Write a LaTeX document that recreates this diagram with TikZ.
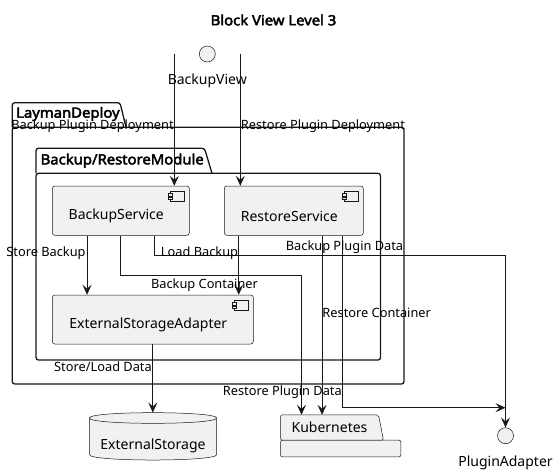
\documentclass[tikz,border=0pt]{standalone}
\usepackage{fontspec}
\setmainfont{Noto Sans}
\newfontfamily\boldsans{Noto Sans}[FakeBold=3,FakeStretch=1.06]
\usetikzlibrary{arrows.meta}
\definecolor{boxfill}{HTML}{F1F1F1}
\definecolor{linecol}{HTML}{181818}
% component icon in the top right corner of a box
\newcommand{\compicon}[1]{%
  \draw[icon] ([xshift=-19.3pt,yshift=-5.7pt]#1.north east) rectangle ([xshift=-5pt,yshift=-15.7pt]#1.north east);
  \draw[icon] ([xshift=-21.6pt,yshift=-7.7pt]#1.north east) rectangle ([xshift=-17pt,yshift=-10.1pt]#1.north east);
  \draw[icon] ([xshift=-21.6pt,yshift=-11.5pt]#1.north east) rectangle ([xshift=-17pt,yshift=-13.9pt]#1.north east);
}

\begin{document}
\begin{tikzpicture}[x=1pt,y=-1pt,
    comp/.style={draw=linecol,fill=boxfill,line width=0.5pt,rounded corners=2.5pt,inner sep=0pt},
    icon/.style={draw=linecol,fill=boxfill,line width=0.5pt},
    iface/.style={circle,draw=linecol,fill=boxfill,line width=0.5pt,inner sep=0pt,minimum size=16pt},
    pkg/.style={draw=linecol,line width=1.3pt,rounded corners=2.5pt},
    txt/.style={inner sep=0pt,font=\fontsize{14}{16}\selectfont},
    lbl/.style={inner sep=0pt,font=\fontsize{12.8}{15}\selectfont},
    pkgname/.style={inner sep=0pt,anchor=west,font=\fontsize{14}{16}\selectfont\boldsans},
    flow/.style={draw=linecol,line width=0.8pt,-{Stealth[length=10pt,width=9pt,inset=4pt]}}]
  \useasboundingbox (0,0) rectangle (559,476);
  \node[inner sep=0pt,font=\fontsize{14}{16}\selectfont\boldsans] (title) at (273.5,20) {Block View Level 3};

  % packages
  \draw[pkg] (12.3,127.3) -- (12.3,102.7) -- (120,102.7) -- (126,127.3);
  \draw[pkg] (12.3,127.3) rectangle (404,384);
  \node[pkgname] (ldname) at (16,114) {LaymanDeploy};
  \draw[pkg] (36,173.3) -- (36,148.3) -- (204.5,148.3) -- (212,173.3);
  \draw[pkg] (36,173.3) rectangle (380.5,360);
  \node[pkgname] (brname) at (40.5,160.7) {Backup/RestoreModule};

  % interfaces
  \node[iface] (bv) at (207.3,54) {};
  \node[txt] (bvtext) at (207.3,81) {BackupView};
  \node[iface] (pa) at (505.5,435.7) {};
  \node[txt] (patext) at (505.5,462.7) {PluginAdapter};

  % components
  \node[comp,minimum width=137pt,minimum height=49.3pt] (bs) at (120.8,210.7) {};
  \node[txt] (bstext) at ([xshift=-4.5pt,yshift=-5.3pt]bs.center) {BackupService};
  \compicon{bs}
  \node[comp,minimum width=139pt,minimum height=49.3pt] (rs) at (293.8,210.7) {};
  \node[txt] (rstext) at ([xshift=-4.5pt,yshift=-5.3pt]rs.center) {RestoreService};
  \compicon{rs}
  \node[comp,minimum width=201pt,minimum height=49pt] (esa) at (152.8,319.5) {};
  \node[txt] (esatext) at ([xshift=-4.5pt,yshift=-5.3pt]esa.center) {ExternalStorageAdapter};
  \compicon{esa}

  % database
  \draw[icon] (89.3,418) -- (89.3,454.7) .. controls (89.3,461.8) and (216.7,461.8) .. (216.7,454.7)
    -- (216.7,418) .. controls (216.7,410.9) and (89.3,410.9) .. (89.3,418) -- cycle;
  \draw[icon] (89.3,418) .. controls (89.3,425.1) and (216.7,425.1) .. (216.7,418);
  \node[inner sep=0pt,minimum width=127.4pt,minimum height=47.3pt] (es) at (153,436.35) {};
  \node[txt] (estext) at (153,445.7) {ExternalStorage};

  % kubernetes package
  \node[inner sep=0pt,minimum width=97.6pt,minimum height=25pt] (kub) at (329.5,427.5) {};
  \draw[icon,rounded corners=2pt] (kub.south west) rectangle ([xshift=22.4pt,yshift=-16.7pt]kub.south east);
  \draw[icon,rounded corners=2pt] (kub.south west) -- (kub.north west) -- (kub.north east) -- ([xshift=5pt]kub.south east) -- cycle;
  \node[txt] (kubtext) at (kub.center) {Kubernetes};

  % bends
  \coordinate (bvl) at (174.3,54);
  \coordinate (bvr) at (240.3,54);
  \coordinate (bc) at (301.5,275.7);
  \coordinate (lb) at (505.5,255.7);
  \coordinate (bpd) at (505.5,407.7);

  % connectors
  \draw[flow] (bvl) -- (bvl |- bs.north);
  \draw[flow] (bvr) -- (bvr |- rs.north);
  \draw[flow] ([xshift=35pt]bs.south west) -- ([xshift=35pt]bs.south west |- esa.north);
  \draw[flow] ([xshift=68.7pt]bs.south west) |- (bc) -- (bc |- kub.north);
  \draw[flow] ([xshift=102.7pt]bs.south west) |- (lb) -- (lb |- pa.north);
  \draw[flow] ([xshift=14.7pt]rs.south west) -- ([xshift=14.7pt]rs.south west |- esa.north);
  \draw[flow] ([xshift=98pt]rs.south west) -- ([xshift=98pt]rs.south west |- kub.north);
  \draw[flow] ([xshift=118.4pt]rs.south west) |- (bpd);
  \draw[flow] (esa.south) -- (esa.south |- es.north);

  % connector labels
  \node[lbl] (l1) at (92.5,126.5) {Backup Plugin Deployment};
  \node[lbl] (l2) at (322.9,126.5) {Restore Plugin Deployment};
  \node[lbl] (l3) at (46,253) {Store Backup};
  \node[lbl] (l4) at (199.5,253) {Load Backup};
  \node[lbl] (l5) at (344.5,246.7) {Backup Plugin Data};
  \node[lbl] (l6) at (204.5,285) {Backup Container};
  \node[lbl] (l7) at (376.7,313.3) {Restore Container};
  \node[lbl] (l8) at (103,366.7) {Store/Load Data};
  \node[lbl] (l9) at (282.3,392) {Restore Plugin Data};
\end{tikzpicture}
\end{document}
